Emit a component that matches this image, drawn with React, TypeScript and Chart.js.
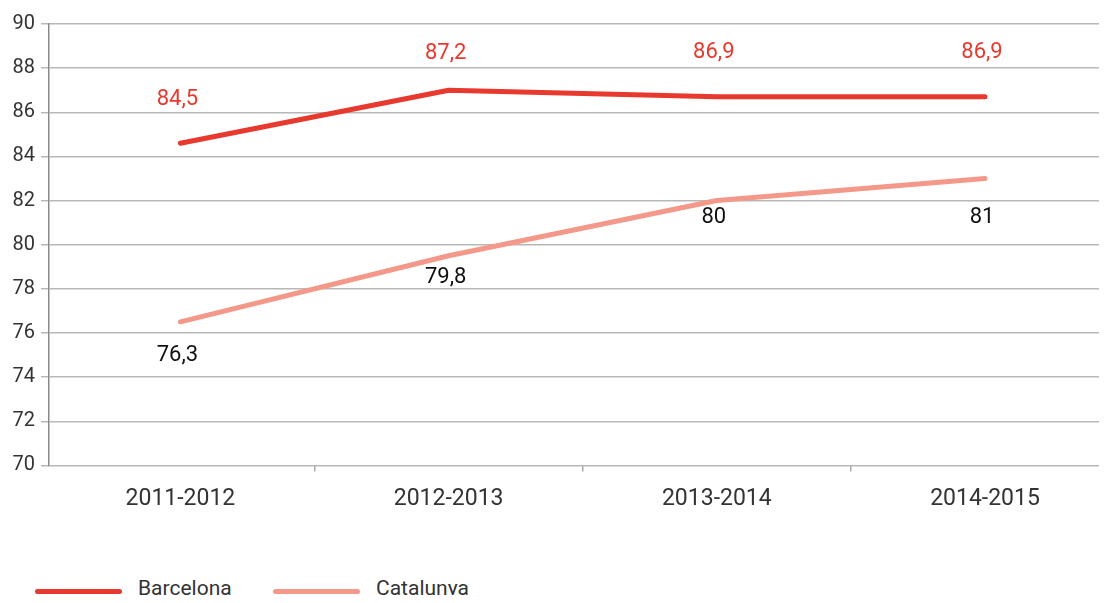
import React, { useEffect, useRef } from "react";
import { Chart, registerables } from "chart.js";

Chart.register(...registerables);

const categories = ["2011-2012", "2012-2013", "2013-2014", "2014-2015"];
const barcelonaValues = [84.6, 87.0, 86.7, 86.7];
const catalunyaValues = [76.5, 79.5, 82.0, 83.0];
const barcelonaLabels = ["84,5", "87,2", "86,9", "86,9"];
const catalunyaLabels = ["76,3", "79,8", "80", "81"];
const seriesNames = ["Barcelona", "Catalunya"];
const yMin = 70;
const yMax = 90;
const yStep = 2;

const RED = "#e8392e";
const SALMON = "#f4998a";
const FONT = "Roboto, 'Noto Sans', sans-serif";

const pointLabelPlugin = {
  id: "pointLabels",
  afterDatasetsDraw(chart: any) {
    const ctx = chart.ctx;
    chart.data.datasets.forEach((ds: any, i: number) => {
      const meta = chart.getDatasetMeta(i);
      meta.data.forEach((pt: any, j: number) => {
        const text = ds.pointLabels[j];
        const off = ds.labelOffsets[j];
        ctx.save();
        ctx.font = `22px ${FONT}`;
        ctx.fillStyle = ds.labelColor;
        ctx.textAlign = "center";
        ctx.textBaseline = "middle";
        ctx.fillText(text, pt.x - 3, pt.y + off);
        ctx.restore();
      });
    });
  },
};

export default function App() {
  const canvasRef = useRef<HTMLCanvasElement | null>(null);

  useEffect(() => {
    if (!canvasRef.current) return;
    const chart = new Chart(canvasRef.current, {
      type: "line",
      data: {
        datasets: [
          {
            label: seriesNames[0],
            data: barcelonaValues.map((v, i) => ({ x: i, y: v })),
            borderColor: RED,
            backgroundColor: RED,
            borderWidth: 5,
            borderCapStyle: "round",
            borderJoinStyle: "round",
            pointRadius: 0,
            tension: 0,
            pointLabels: barcelonaLabels,
            labelOffsets: [-44, -37, -44, -44],
            labelColor: RED,
          } as any,
          {
            label: seriesNames[1],
            data: catalunyaValues.map((v, i) => ({ x: i, y: v })),
            borderColor: SALMON,
            backgroundColor: SALMON,
            borderWidth: 5,
            borderCapStyle: "round",
            borderJoinStyle: "round",
            pointRadius: 0,
            tension: 0,
            pointLabels: catalunyaLabels,
            labelOffsets: [34, 22, 17, 39],
            labelColor: "#111111",
          } as any,
        ],
      },
      options: {
        animation: false,
        responsive: true,
        maintainAspectRatio: false,
        layout: { padding: { top: 15, right: 5, bottom: 21, left: 0 } },
        plugins: {
          legend: { display: false },
          tooltip: { enabled: false },
        },
        scales: {
          x: {
            type: "linear",
            min: -0.49,
            max: 3.425,
            afterBuildTicks: (scale: any) => {
              const vals = [-0.5, 0, 0.5, 1, 1.5, 2, 2.5, 3];
              scale.ticks = vals.map((v) => ({ value: v }));
            },
            ticks: {
              autoSkip: false,
              maxRotation: 0,
              minRotation: 0,
              padding: 14,
              color: "#333333",
              font: { family: FONT, size: 23 },
              callback: (v: any) =>
                Number.isInteger(v) && v >= 0 && v < categories.length ? categories[v] : "",
            },
            grid: {
              drawOnChartArea: false,
              tickLength: 6,
              lineWidth: 1.5,
              color: (c: any) =>
                c.tick && !Number.isInteger(c.tick.value) && c.tick.value > 0
                  ? "#aaaaaa"
                  : "rgba(0,0,0,0)",
            },
            border: { display: false },
          },
          y: {
            min: yMin,
            max: yMax,
            afterFit: (scale: any) => {
              scale.width = 41;
            },
            ticks: {
              stepSize: yStep,
              padding: 6,
              color: "#333333",
              font: { family: FONT, size: 20, lineHeight: 1 },
            },
            grid: {
              color: "#b8b8b8",
              lineWidth: 1.5,
              tickLength: 8,
            },
            border: { color: "#8a8a8a", width: 1.5 },
          },
        },
      },
      plugins: [pointLabelPlugin],
    } as any);
    return () => chart.destroy();
  }, []);

  const colors = [RED, SALMON];

  return (
    <div style={{ position: "relative", width: 1096, height: 587 }}>
      <div style={{ position: "relative", width: 1096, height: 540 }}>
        <canvas ref={canvasRef} />
      </div>
      <div
        style={{
          position: "absolute",
          top: 567,
          left: 27,
          display: "flex",
          alignItems: "center",
          fontFamily: FONT,
          fontSize: 21,
          color: "#333333",
          height: 26,
        }}
      >
        {seriesNames.map((name, i) => (
          <div
            key={name}
            style={{ display: "flex", alignItems: "center", width: i === 0 ? 238 : "auto" }}
          >
            <span
              style={{
                display: "inline-block",
                width: 87,
                height: 5,
                borderRadius: 3,
                background: colors[i],
                position: "relative",
                top: 3,
                marginRight: 16,
              }}
            />
            <span style={{ lineHeight: "26px" }}>{name}</span>
          </div>
        ))}
      </div>
    </div>
  );
}
